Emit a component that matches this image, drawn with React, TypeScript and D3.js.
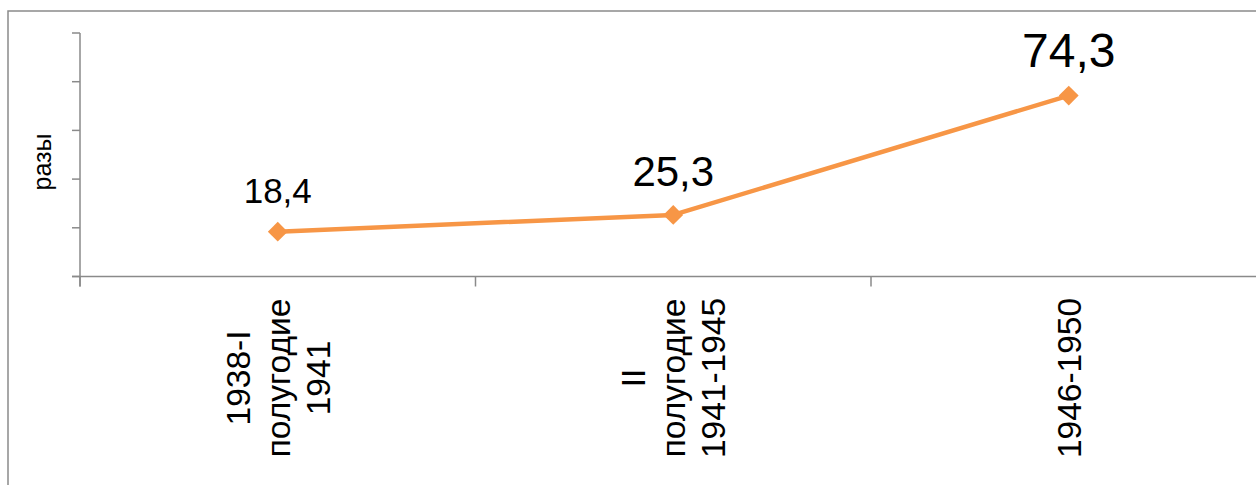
import React from "react";
import * as d3 from "d3";

const categories: string[][] = [
  ["1938-I", "полугодие", "1941"],
  ["II", "полугодие", "1941-1945"],
  ["1946-1950"],
];
const values: number[] = [18.4, 25.3, 74.3];
const valueLabels: string[] = ["18,4", "25,3", "74,3"];
const labelFontSizes: number[] = [35, 42, 48];
const yTicks: number[] = [0, 20, 40, 60, 80, 100];
const yTitle = "разы";

const W = 1256;
const H = 485;
const left = 80;
const bandW = 395.5;
const top = 33;
const bottom = 276.5;

export default function App() {
  const keys = categories.map((_, i) => String(i));
  const x = d3
    .scaleBand<string>()
    .domain(keys)
    .range([left, left + bandW * keys.length])
    .padding(0);
  const y = d3.scaleLinear().domain([0, 100]).range([bottom, top]);
  const cx = (i: number) => (x(String(i)) as number) + x.bandwidth() / 2;

  const line = d3
    .line<number>()
    .x((_, i) => cx(i))
    .y((d) => y(d));

  const axisColor = "#8a8a8a";
  const font = "'Liberation Sans', Arial, sans-serif";
  const boundaries = d3.range(keys.length + 1).map((i) => left + i * x.bandwidth());
  const labelY = 378;
  const lineH = 40;

  return (
    <svg
      width={W}
      height={H}
      style={{ position: "absolute", left: 0, top: 0, background: "#fff" }}
      fontFamily={font}
    >
      <rect x={8} y={11} width={1300} height={500} fill="#fff" stroke={axisColor} strokeWidth={1.5} />

      {/* y axis */}
      <line x1={left} x2={left} y1={y(100)} y2={bottom + 10} stroke={axisColor} strokeWidth={1.5} />
      {yTicks.map((t) => (
        <line key={t} x1={left - 8} x2={left} y1={y(t)} y2={y(t)} stroke={axisColor} strokeWidth={1.5} />
      ))}
      {/* x axis */}
      <line x1={left - 8} x2={W + 20} y1={bottom} y2={bottom} stroke={axisColor} strokeWidth={1.5} />
      {boundaries.map((b, i) => (
        <line key={i} x1={b} x2={b} y1={bottom} y2={bottom + 10} stroke={axisColor} strokeWidth={1.5} />
      ))}

      {/* y title */}
      <text
        transform={`translate(51,162) rotate(-90)`}
        textAnchor="middle"
        fontSize={25}
        fill="#000"
      >
        {yTitle}
      </text>

      {/* category labels */}
      {categories.map((lines, i) => (
        <text
          key={i}
          transform={`translate(${cx(i)},${labelY}) rotate(-90)`}
          textAnchor="middle"
          fontSize={33.5}
          fill="#000"
        >
          {lines.map((l, j) => (
            <tspan key={j} x={0} y={(j - (lines.length - 1) / 2) * lineH + 12}>
              {l}
            </tspan>
          ))}
        </text>
      ))}

      {/* series */}
      <path d={line(values) || ""} fill="none" stroke="#F79646" strokeWidth={4.5} strokeLinejoin="round" />
      {values.map((v, i) => (
        <path
          key={i}
          d={d3.symbol(d3.symbolDiamond2, 250)() || ""}
          transform={`translate(${cx(i)},${y(v)})`}
          fill="#F79646"
        />
      ))}
      {values.map((v, i) => (
        <text
          key={i}
          x={cx(i)}
          y={y(v) - 29}
          textAnchor="middle"
          fontSize={labelFontSizes[i]}
          fill="#000"
        >
          {valueLabels[i]}
        </text>
      ))}
    </svg>
  );
}
